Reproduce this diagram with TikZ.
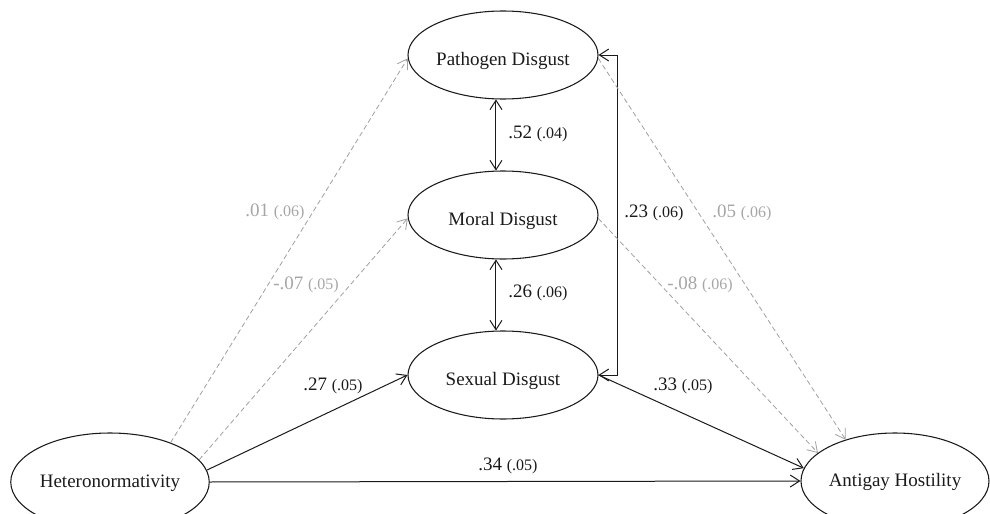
\documentclass[tikz,border=0pt]{standalone}
\usepackage{fontspec}
\setmainfont{Liberation Serif}
\usetikzlibrary{shapes.geometric,arrows.meta}
\definecolor{lgray}{HTML}{A0A0A0}
\definecolor{tgray}{HTML}{A6A6A6}
\definecolor{ink}{HTML}{1A1A1A}
\tikzset{
  latent/.style={ellipse,draw=ink,line width=0.8pt,inner sep=0pt,
    minimum width=142.5pt,minimum height=66pt,font=\fontsize{14.25}{16}\selectfont,text=ink,
    text height=16.2pt,text depth=0pt},
  latentbig/.style={latent,minimum height=72pt,text height=8.7pt,text depth=0pt},
  barb/.style={-{Straight Barb[length=7pt,width=9pt]}},
  dbarb/.style={{Straight Barb[length=7pt,width=9pt]}-{Straight Barb[length=7pt,width=9pt]}},
  solidpath/.style={barb,draw=ink,line width=0.75pt},
  dashpath/.style={barb,draw=lgray,line width=0.6pt,dash pattern=on 3.75pt off 2.25pt},
  coef/.style={anchor=west,inner sep=0pt,font=\fontsize{14.25}{16}\selectfont,text=ink},
  gcoef/.style={coef,text=tgray}
}
\newcommand{\se}[1]{{\fontsize{12}{14}\selectfont #1}}
\begin{document}
\begin{tikzpicture}[x=0.75pt,y=-0.75pt]
\useasboundingbox (0,0) rectangle (990,514);
\clip (0,0) rectangle (990,514);
\node[latent] (pat) at (503,55) {Pathogen Disgust};
\node[latent] (mor) at (503,215) {Moral Disgust};
\node[latent] (sex) at (503,375) {Sexual Disgust};
\node[latentbig,minimum height=73.5pt] (het) at (110,482) {Heteronormativity};
\node[latentbig,minimum width=141pt] (ant) at (895,481) {Antigay Hostility};

% covariances
\draw[dbarb,draw=ink,line width=0.75pt] (pat.261) -- (mor.99);
\draw[dbarb,draw=ink,line width=0.75pt] (mor.261) -- (sex.99);
\draw[dbarb,draw=ink,line width=0.75pt] (pat.east) -- ++(19,0) |- (sex.east);

% dashed (non-significant) paths
\draw[dashpath] (het.33) -- (pat.182);
\draw[dashpath] (het.14) -- (mor.182);
\draw[dashpath] (pat.-2) -- (ant.140);
\draw[dashpath] (mor.-2) -- (ant.160);

% solid paths
\draw[solidpath] (het.7) -- (sex.west);
\draw[solidpath] (het.east) -- (ant.west);
\draw[solidpath] (sex.east) -- (ant.172);

% coefficients
\node[coef] (c52) at (508,134) {.52 \se{(.04)}};
\node[coef] (c26) at (508,293) {.26 \se{(.06)}};
\node[coef] (c23) at (624,213) {.23 \se{(.06)}};
\node[gcoef] (c05) at (712,213) {.05 \se{(.06)}};
\node[gcoef] (c08) at (667,285) {-.08 \se{(.06)}};
\node[gcoef] (c01) at (245,212) {.01 \se{(.06)}};
\node[gcoef] (c07) at (273,285) {-.07 \se{(.05)}};
\node[coef] (c27) at (303,386) {.27 \se{(.05)}};
\node[coef] (c34) at (478,466) {.34 \se{(.05)}};
\node[coef] (c33) at (653,386) {.33 \se{(.05)}};
\end{tikzpicture}
\end{document}
